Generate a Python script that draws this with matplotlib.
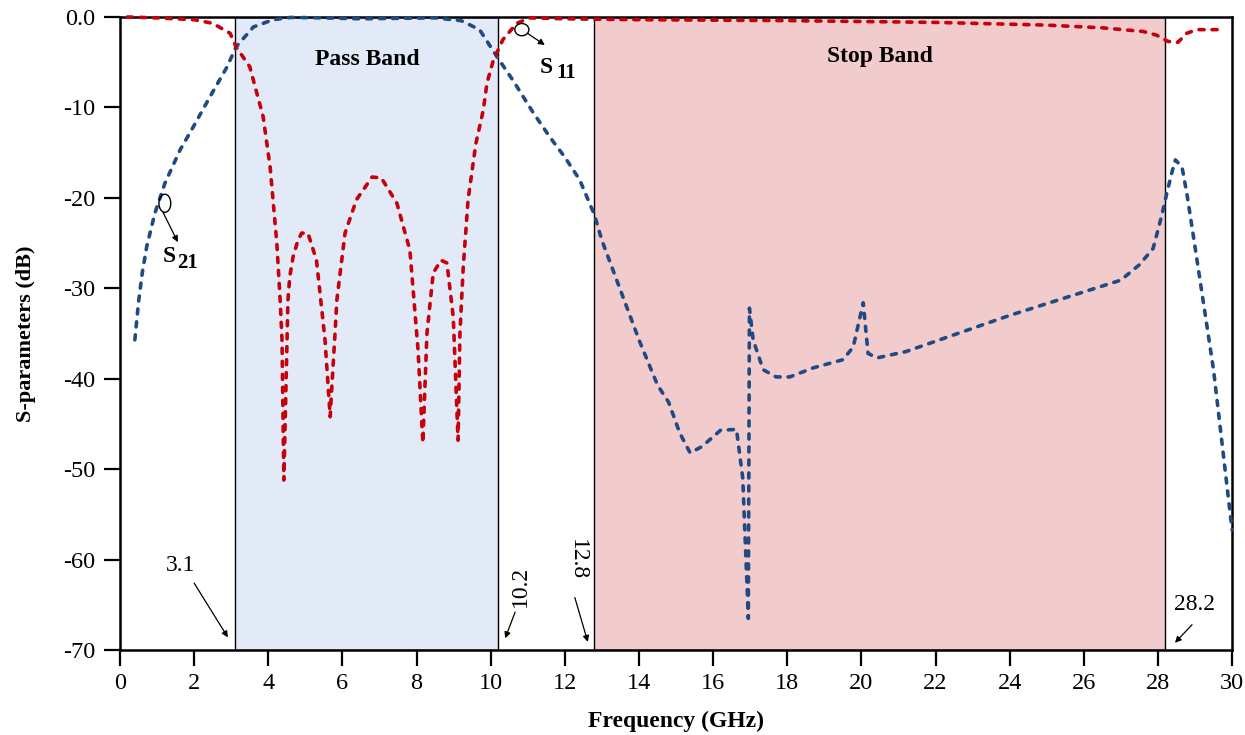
import numpy as np
import matplotlib
matplotlib.use("Agg")
import matplotlib.pyplot as plt
import matplotlib.patches as mpatches

plt.rcParams['font.family'] = 'serif'
plt.rcParams['font.serif'] = ['Liberation Serif', 'DejaVu Serif']

# S21 (transmission)
f_s21 = [0.4, 0.5, 0.6, 0.72, 0.94, 1.21, 1.62, 1.97, 2.43, 2.89, 3.13, 3.6, 4.13, 4.6,
         5.5, 6.5, 7.5, 8.5, 9.2, 9.7, 10.17, 10.6, 11.15, 11.6, 12.0, 12.4, 12.8,
         13.0, 13.5, 14.0, 14.5, 14.8, 15.1, 15.38, 15.7, 16.2, 16.63, 16.8, 16.95,
         16.98, 17.08, 17.35, 17.7, 18.07, 18.7, 19.5, 19.78, 20.05, 20.18, 20.42,
         21.2, 24.0, 27.0, 27.5, 27.87, 28.1, 28.24, 28.37, 28.47, 28.65, 28.78,
         29.0, 29.5, 30.0]
s21_db = [-35.7, -31.5, -28.3, -25.4, -21.7, -18.4, -14.7, -12.2, -8.8, -5.5, -3.3, -1.1,
          -0.3, -0.05, -0.1, -0.2, -0.15, -0.1, -0.4, -1.4, -4.4, -7.0, -10.6, -13.3,
          -15.5, -18.0, -21.9, -24.7, -30.2, -35.7, -40.7, -42.6, -46.0, -48.2,
          -47.5, -45.7, -45.6, -51.0, -66.5, -32.2, -35.7, -39.0, -39.8, -39.8,
          -38.8, -37.9, -36.5, -31.6, -37.2, -37.7, -37.0, -33.0, -29.1, -27.4,
          -25.6, -22.0, -19.5, -17.3, -15.8, -16.6, -19.5, -25.4, -39.0, -56.7]

# S11 (reflection)
f_s11 = [0.2, 1.0, 2.0, 2.5, 2.97, 3.13, 3.5, 3.86, 4.05, 4.23, 4.32, 4.37, 4.42,
         4.53, 4.58, 4.67, 4.8, 4.9, 5.07, 5.3, 5.53, 5.67, 5.72, 5.8, 5.85, 6.07,
         6.38, 6.8, 7.05, 7.47, 7.82, 8.04, 8.17, 8.28, 8.45, 8.66, 8.82, 8.99,
         9.12, 9.17, 9.26, 9.39, 9.6, 9.8, 9.9, 10.07, 10.33, 10.7, 11.06, 12.0,
         14.0, 18.0, 22.0, 25.0, 26.5, 27.6, 27.96, 28.27, 28.54, 28.78, 29.05, 29.8]
s11_db = [0.0, -0.1, -0.3, -0.7, -1.8, -3.3, -5.5, -11.0, -16.6, -25.0, -31.3,
          -35.7, -51.2, -31.3, -28.7, -26.5, -24.7, -23.9, -23.9, -26.9, -35.7,
          -44.2, -40.5, -35.0, -31.3, -23.9, -20.2, -17.7, -17.8, -20.6, -25.8,
          -36.8, -47.1, -35.0, -28.3, -26.9, -27.2, -33.2, -46.8, -35.0, -27.6,
          -20.2, -14.0, -10.3, -7.3, -4.8, -2.5, -0.7, -0.1, -0.2, -0.3, -0.4,
          -0.6, -0.9, -1.2, -1.6, -2.0, -2.7, -2.8, -1.8, -1.4, -1.4]

pass_band = (3.1, 10.2)
stop_band = (12.8, 28.2)
x_ticks = np.arange(0, 31, 2)
y_ticks = [0, -10, -20, -30, -40, -50, -60, -70]
y_tick_labels = ['0.0', '-10', '-20', '-30', '-40', '-50', '-60', '-70']

fig = plt.figure(figsize=(12.45, 7.35), dpi=100)
ax = fig.add_axes([0.0964, 0.1156, 0.8932, 0.8613])

ax.axvspan(*pass_band, facecolor='#E1EAF6', edgecolor='black', lw=1.0, zorder=0)
ax.axvspan(*stop_band, facecolor='#F2CBCC', edgecolor='black', lw=1.0, zorder=0)

blue = '#1F4A84'
red = '#C8000A'
l21, = ax.plot(f_s21, s21_db, color=blue, lw=2.6, zorder=3, clip_on=False)
l11, = ax.plot(f_s11, s11_db, color=red, lw=2.6, zorder=4, clip_on=False)
for ln in (l21, l11):
    ln.set_dashes((1.4, 2.2))
    ln.set_dash_capstyle('round')

ax.set_xlim(0, 30)
ax.set_ylim(-70, 0)
ax.set_xticks(x_ticks)
ax.set_yticks(y_ticks)
ax.set_yticklabels(y_tick_labels)
ax.tick_params(direction='out', length=11.5, width=1.6, labelsize=17.5)
ax.tick_params(axis='y', pad=6)
ax.tick_params(axis='x', pad=5)
for sp in ax.spines.values():
    sp.set_linewidth(1.8)

ax.set_xlabel('Frequency (GHz)', fontsize=17, fontweight='bold', labelpad=12)
ax.set_ylabel('S-parameters (dB)', fontsize=16, fontweight='bold', labelpad=20)

ax.text(6.66, -4.75, 'Pass Band', fontsize=17, fontweight='bold', ha='center', va='center')
ax.text(20.5, -4.4, 'Stop Band', fontsize=17, fontweight='bold', ha='center', va='center')

arrow = dict(arrowstyle='-|>', color='black', lw=0.9, mutation_scale=9, shrinkA=0, shrinkB=0)

# S21 marker
ax.add_patch(mpatches.Ellipse((1.21, -20.6), 0.32, 2.0, fill=False, ec='black', lw=1.0, zorder=5))
ax.annotate('', xy=(1.56, -24.9), xytext=(1.16, -21.6), arrowprops=arrow)
ax.text(1.14, -27.1, 'S', fontsize=17, fontweight='bold', va='baseline')
ax.text(1.54, -27.75, '21', fontsize=15, fontweight='bold', va='baseline')

# S11 marker
ax.add_patch(mpatches.Ellipse((10.84, -1.4), 0.38, 1.35, fill=False, ec='black', lw=1.0, zorder=5))
ax.annotate('', xy=(11.46, -3.1), xytext=(10.99, -1.8), arrowprops=arrow)
ax.text(11.31, -6.2, 'S', fontsize=17, fontweight='bold', va='baseline')
ax.text(11.76, -6.75, '11', fontsize=15, fontweight='bold', va='baseline')

# band edge labels
ax.text(1.62, -60.6, '3.1', fontsize=17, ha='center', va='center')
ax.annotate('', xy=(2.91, -68.6), xytext=(2.0, -62.6), arrowprops=arrow)
ax.text(10.79, -63.0, '10.2', fontsize=17, ha='center', va='center', rotation=90)
ax.annotate('', xy=(10.39, -68.7), xytext=(10.66, -65.8), arrowprops=arrow)
ax.text(12.33, -60.0, '12.8', fontsize=17, ha='center', va='center', rotation=-90)
ax.annotate('', xy=(12.62, -69.1), xytext=(12.27, -64.2), arrowprops=arrow)
ax.text(29.0, -65.0, '28.2', fontsize=17, ha='center', va='center')
ax.annotate('', xy=(28.46, -69.2), xytext=(28.92, -67.2), arrowprops=arrow)

fig.savefig('out.png', dpi=100)
